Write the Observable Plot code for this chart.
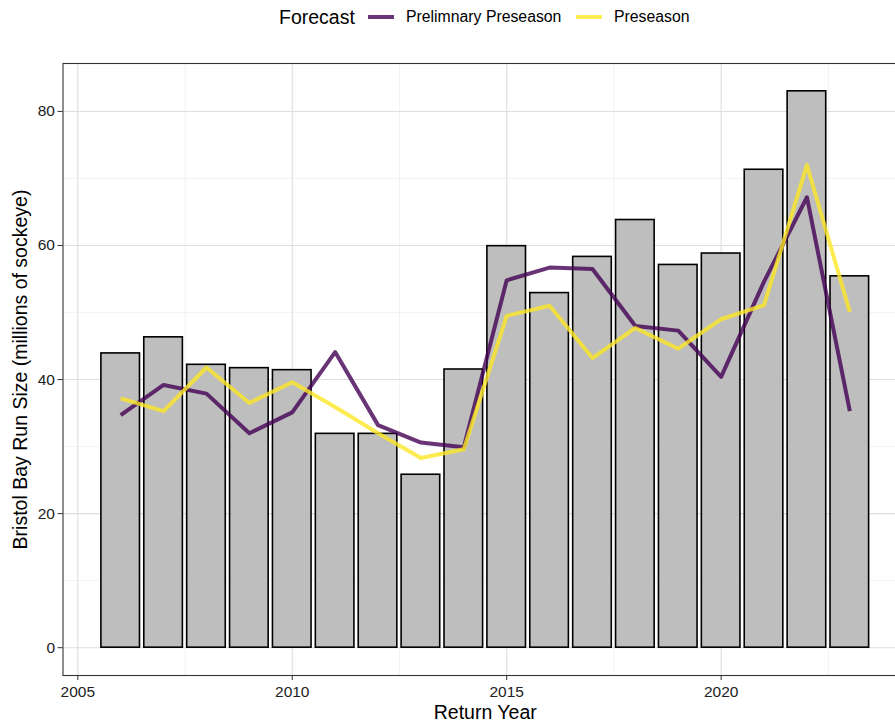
<!DOCTYPE html>
<html>
<head>
<meta charset="utf-8">
<script src="https://cdn.jsdelivr.net/npm/d3@7"></script>
<script src="https://cdn.jsdelivr.net/npm/@observablehq/plot@0.6"></script>
<style>
  html, body { margin: 0; padding: 0; background: #fff; overflow: hidden; width: 895px; height: 723px; }
  body { font-family: "Liberation Sans", Arial, Helvetica, sans-serif; }
  #legend { position: relative; height: 36px; width: 895px; }
  #legend .t { position: absolute; top: 17px; transform: translateY(-50%); white-space: nowrap; color: #000; }
  #legend .sw { position: absolute; top: 15px; height: 4px; width: 26px; }
  #chart { width: 895px; overflow: hidden; }
  #chart svg { max-width: none !important; }
</style>
</head>
<body>
<div id="legend"></div>
<div id="chart"></div>
<script>
// ---- data ----
const years = [2006, 2007, 2008, 2009, 2010, 2011, 2012, 2013, 2014, 2015, 2016, 2017, 2018, 2019, 2020, 2021, 2022, 2023];
const runSize = [43.9, 46.3, 42.2, 41.7, 41.4, 31.9, 31.9, 25.8, 41.5, 59.9, 52.9, 58.3, 63.8, 57.1, 58.8, 71.3, 83.0, 55.4];
const preliminaryPreseason = [34.7, 39.2, 37.9, 32.0, 35.1, 44.1, 33.2, 30.6, 29.9, 54.8, 56.7, 56.5, 48.0, 47.3, 40.4, 54.6, 67.2, 35.3];
const preseason = [37.2, 35.3, 41.8, 36.5, 39.6, 35.9, 32.0, 28.3, 29.6, 49.5, 51.0, 43.2, 47.7, 44.6, 49.0, 51.1, 72.0, 50.1];
const seriesNames = ["Prelimnary Preseason", "Preseason"];
const seriesColors = ["#440154", "#FDE725"];
const xTicks = [2005, 2010, 2015, 2020];
const xMinor = [2007.5, 2012.5, 2017.5, 2022.5];
const yTicks = [0, 20, 40, 60, 80];
const yMinor = [10, 30, 50, 70];

const bars = years.map((y, i) => ({year: y, value: runSize[i]}));
const lineData = [
  ...years.map((y, i) => ({year: y, value: preliminaryPreseason[i], series: seriesNames[0]})),
  ...years.map((y, i) => ({year: y, value: preseason[i], series: seriesNames[1]}))
];

// ---- legend ----
const legend = document.getElementById("legend");
legend.innerHTML = `
  <span class="t" style="left:279px;font-size:19.5px;">Forecast</span>
  <span class="sw" style="left:368px;background:${seriesColors[0]};opacity:0.8"></span>
  <span class="t" style="left:406px;font-size:15.8px;">${seriesNames[0]}</span>
  <span class="sw" style="left:576px;background:${seriesColors[1]};opacity:0.8"></span>
  <span class="t" style="left:614px;font-size:15.8px;">${seriesNames[1]}</span>`;

// ---- chart ----
const W = 910, H = 687;
const chart = Plot.plot({
  width: W,
  height: H,
  marginTop: 27,
  marginLeft: 62.5,
  marginRight: 3,
  marginBottom: 48,
  style: {fontFamily: '"Liberation Sans", Arial, Helvetica, sans-serif', fontSize: "15.5px", background: "#fff", maxWidth: "none"},
  x: {domain: [2004.655, 2024.345]},
  y: {domain: [-4.15, 87.15]},
  marks: [
    Plot.ruleY(yMinor, {stroke: "#ebebeb", strokeWidth: 0.6}),
    Plot.ruleX(xMinor, {stroke: "#ebebeb", strokeWidth: 0.6}),
    Plot.ruleY(yTicks, {stroke: "#dedede", strokeWidth: 1.1}),
    Plot.ruleX(xTicks, {stroke: "#dedede", strokeWidth: 1.1}),
    Plot.rectY(bars, {x1: d => d.year - 0.45, x2: d => d.year + 0.45, y1: 0, y2: "value", fill: "#bebebe", stroke: "#000", strokeWidth: 1.6}),
    Plot.line(lineData, {x: "year", y: "value", z: "series",
      stroke: d => seriesColors[seriesNames.indexOf(d.series)],
      strokeWidth: 4, strokeOpacity: 0.8, strokeLinejoin: "round", strokeLinecap: "butt"}),
    Plot.frame({stroke: "#333333", strokeWidth: 1.1}),
    Plot.axisY(yTicks, {tickSize: 5, tickPadding: 3, stroke: "#333", fill: "#222", fontSize: 15.5, label: null}),
    Plot.axisX(xTicks, {tickSize: 5, tickPadding: 5, stroke: "#333", fill: "#222", fontSize: 15.5, tickFormat: "d", label: null}),
    Plot.text(["Return Year"], {frameAnchor: "bottom", dy: 37, fontSize: 19.5, fill: "#000", textAnchor: "middle", lineAnchor: "middle"}),
    Plot.text(["Bristol Bay Run Size (millions of sockeye)"], {frameAnchor: "left", dx: -42, rotate: -90, fontSize: 19.5, fill: "#000", textAnchor: "middle", lineAnchor: "middle"})
  ]
});
chart.style.display = "block";
chart.style.maxWidth = "none";
chart.setAttribute("width", W);
chart.setAttribute("height", H);
document.getElementById("chart").appendChild(chart);
</script>
</body>
</html>
